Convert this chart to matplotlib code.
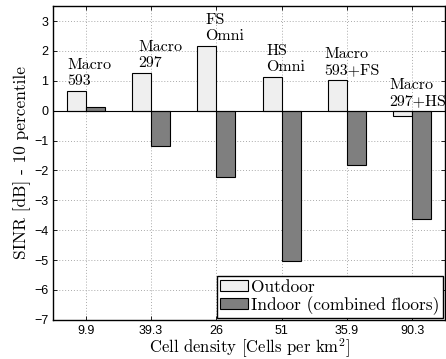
import numpy as np
import matplotlib
matplotlib.use('Agg')
import matplotlib.pyplot as plt

# ── data ──────────────────────────────────────────────
densities = ['9.9', '39.3', '26', '51', '35.9', '90.3']
outdoor = [0.65, 1.27, 2.18, 1.13, 1.02, -0.17]
indoor = [0.12, -1.17, -2.22, -5.03, -1.83, -3.62]
scenarios = ['Macro\n593', 'Macro\n297', 'FS\nOmni', 'HS\nOmni',
             'Macro\n593+FS', 'Macro\n297+HS']

# label placement (x offset from group centre, gap above bar)
label_dx = [-0.28, -0.2, -0.17, -0.24, -0.35, -0.35]
label_gap = 0.1

plt.rcParams['mathtext.fontset'] = 'cm'
SERIF = 'cmr10'

fig = plt.figure(figsize=(4.46, 3.59), dpi=100)
ax = fig.add_axes([0.119, 0.109, 0.879, 0.874])

x = np.arange(1, len(densities) + 1)
w = 0.29
ax.bar(x - w / 2, outdoor, w, color='#efefef', edgecolor='black',
       linewidth=0.8, label='Outdoor', zorder=3)
ax.bar(x + w / 2, indoor, w, color='#7f7f7f', edgecolor='black',
       linewidth=0.8, label='Indoor (combined floors)', zorder=3)
ax.axhline(0, color='black', linewidth=0.8, zorder=4)

for xi, o, txt, dx in zip(x, outdoor, scenarios, label_dx):
    ax.text(xi + dx, max(o, 0) + label_gap, txt, ha='left', va='bottom',
            family=SERIF, fontsize=11.5, linespacing=1.2, zorder=5)

ax.set_xlim(0.5, 6.5)
ax.set_ylim(-7, 3.5)
ax.set_xticks(x)
ax.set_xticklabels(densities)
ax.set_yticks(range(-7, 4))
ax.set_yticklabels([f'{v}'.replace('-', '\u2212') for v in range(-7, 4)])
ax.tick_params(direction='in', top=True, right=True, length=3,
               labelsize=9, width=0.6)
for lab in ax.get_xticklabels() + ax.get_yticklabels():
    lab.set_family('Liberation Sans')
ax.grid(True, linestyle=(0, (1, 2)), color='#aaaaaa', linewidth=0.7, zorder=0)

ax.set_xlabel(r'Cell density [Cells per km$^2$]', family=SERIF,
              fontsize=12, labelpad=0)
ax.set_ylabel('SINR [dB] - 10 percentile', family=SERIF, fontsize=12.5,
              labelpad=2)

leg = ax.legend(loc='lower right', prop={'family': SERIF, 'size': 12.5},
                fancybox=False, edgecolor='black', framealpha=1,
                borderaxespad=0.1, handlelength=1.6, handleheight=0.6,
                handletextpad=0.2, borderpad=0.2, labelspacing=0.05)
leg.get_frame().set_linewidth(1.0)

for s in ax.spines.values():
    s.set_linewidth(1.0)

fig.savefig('out.png', dpi=100)
